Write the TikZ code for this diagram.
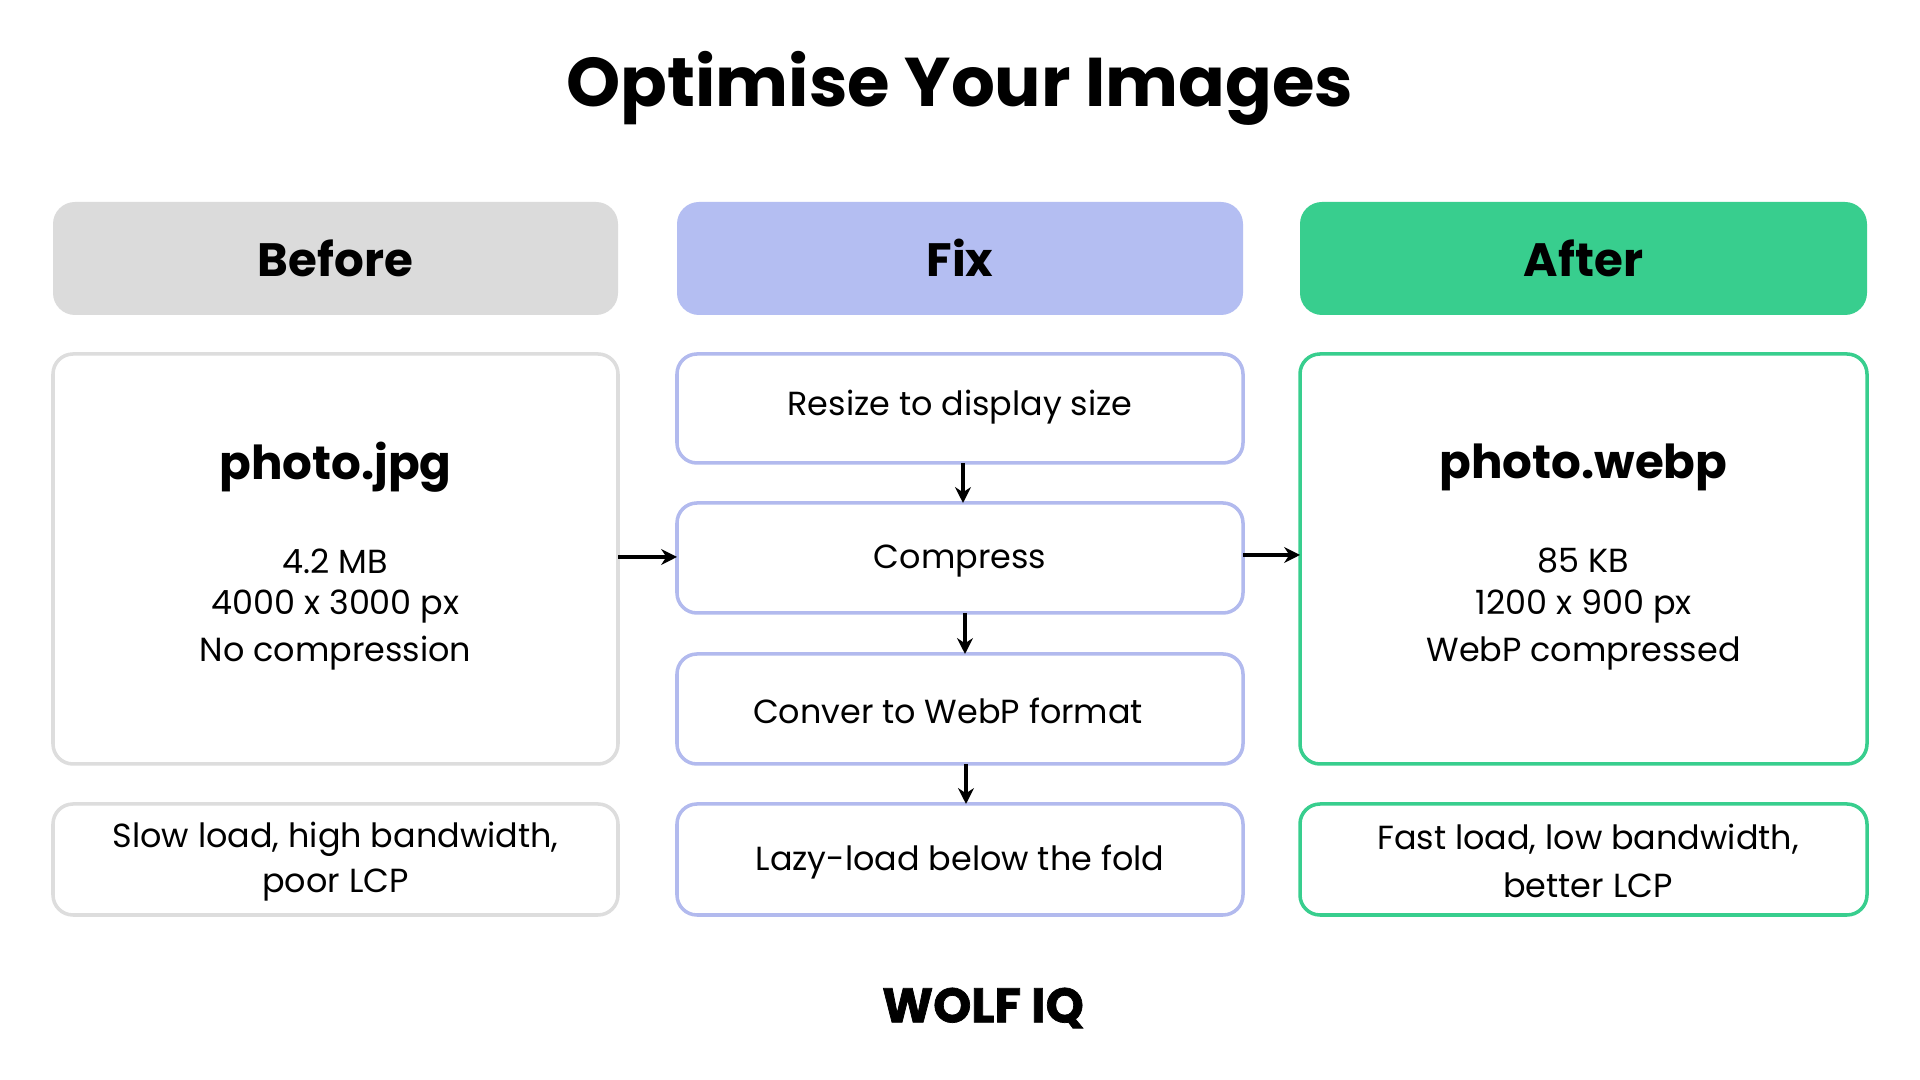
\documentclass[tikz,border=0pt]{standalone}
\usepackage{fontspec}
\setmainfont{Poppins}
\newfontfamily\heavy{Poppins Bold}[FakeBold=1.5]
\usetikzlibrary{arrows.meta}
\definecolor{gfill}{HTML}{DBDBDB}
\definecolor{gline}{HTML}{DDDDDD}
\definecolor{bfill}{HTML}{B4BEF2}
\definecolor{bline}{HTML}{B2BAEE}
\definecolor{green}{HTML}{38CE8E}
\tikzset{
 hdr/.style={rounded corners=22\pxu,font=\fontsize{13.3}{16}\selectfont\bfseries},
 bx/.style={rounded corners=20\pxu,line width=1pt,fill=white},
 txt/.style={font=\fontsize{9.5}{12}\selectfont,align=center},
 big/.style={font=\fontsize{13.3}{16}\selectfont\bfseries},
 arr/.style={-{Stealth[length=4.5pt,width=4.5pt]},line width=1.1pt,black}
}
\newlength\pxu \setlength\pxu{0.01cm}
\begin{document}
\begin{tikzpicture}[x=0.01cm,y=-0.01cm]
\path[use as bounding box,fill=white] (0,0) rectangle (1920,1080);
\node[font=\fontsize{19.6}{24}\selectfont\bfseries] (title) at (960,88) {Optimise Your Images};
% headers
\path[hdr,fill=gfill] (53,202) rectangle (618,315);
\node[hdr] (hb) at (335.5,258) {Before};
\path[hdr,fill=bfill] (677,202) rectangle (1243,315);
\node[hdr] (hf) at (960,258) {Fix};
\path[hdr,fill=green] (1300,202) rectangle (1867,315);
\node[hdr] (ha) at (1583.5,258) {After};
% before
\draw[bx,draw=gline] (53,354) rectangle (618,764);
\coordinate (bR) at (618,557);
\node[big] (bn) at (335.5,467) {photo.jpg};
\node[txt] at (335.5,561) {4.2 MB};
\node[txt] at (335.5,607) {4000 x 3000 px};
\node[txt] at (335.5,653) {No compression};
\draw[bx,draw=gline] (53,804) rectangle (618,915);
\node[txt] at (335.5,839) {Slow load, high bandwidth,};
\node[txt] at (335.5,885) {poor LCP};
% fix
\draw[bx,draw=bline] (677,354) rectangle (1243,463);
\node[txt] (f1) at (960,407) {Resize to display size};
\draw[bx,draw=bline] (677,503) rectangle (1243,613);
\node[txt] (f2) at (960,561) {Compress};
\draw[bx,draw=bline] (677,654) rectangle (1243,764);
\node[txt] (f3) at (948,711) {Conver to WebP format};
\draw[bx,draw=bline] (677,804) rectangle (1243,915);
\node[txt] (f4) at (960,862) {Lazy-load below the fold};
\coordinate (fL) at (677,557);
\coordinate (fR) at (1243,555);
\coordinate (a1) at (963,463); \coordinate (a1e) at (963,503);
\coordinate (a2) at (965,613); \coordinate (a2e) at (965,654);
\coordinate (a3) at (966,764); \coordinate (a3e) at (966,804);
\draw[arr] (a1) -- (a1e);
\draw[arr] (a2) -- (a2e);
\draw[arr] (a3) -- (a3e);
% after
\draw[bx,draw=green] (1300,354) rectangle (1867,764);
\coordinate (aL) at (1300,555);
\node[big] (an) at (1583.5,467) {photo.webp};
\node[txt] at (1583.5,561) {85 KB};
\node[txt] at (1583.5,607) {1200 x 900 px};
\node[txt] at (1583.5,653) {WebP compressed};
\draw[bx,draw=green] (1300,804) rectangle (1867,915);
\node[txt] at (1588,839) {Fast load, low bandwidth,};
\node[txt] at (1588,885) {better LCP};
\draw[arr] (bR) -- (fL);
\draw[arr] (fR) -- (aL);
\node[font=\fontsize{13.8}{17}\selectfont\heavy] (logo) at (983,1008) {WOLF IQ};
\end{tikzpicture}
\end{document}
